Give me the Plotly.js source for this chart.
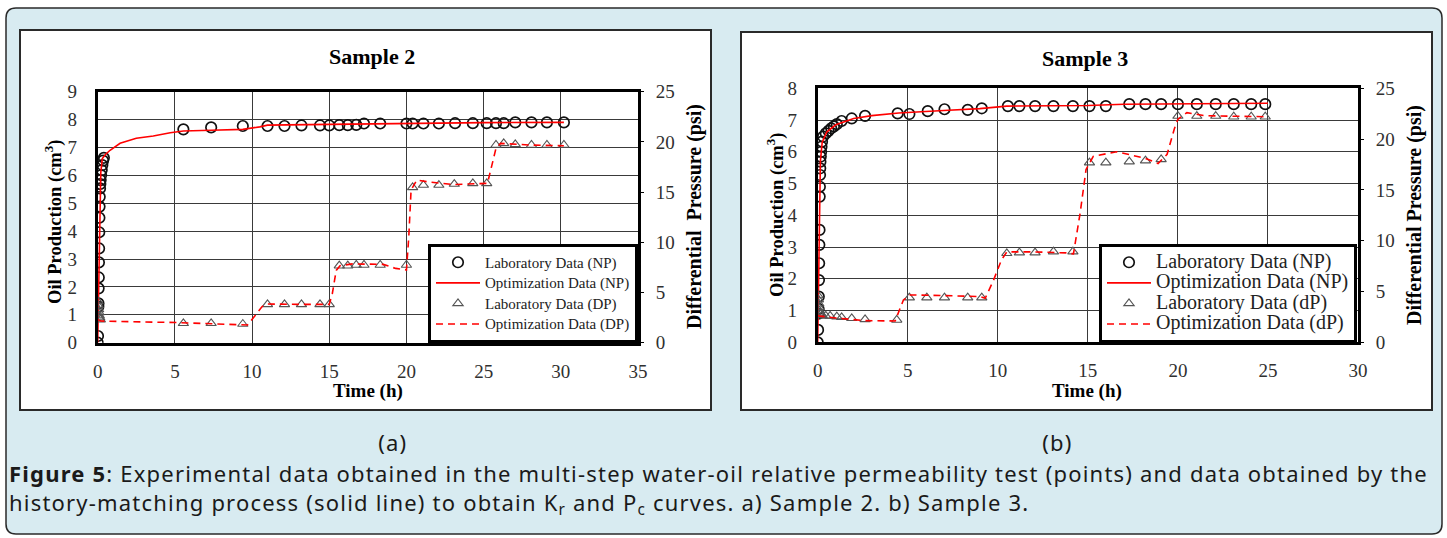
<!DOCTYPE html>
<html>
<head>
<meta charset="utf-8">
<script src="https://cdn.plot.ly/plotly-3.0.1.min.js"></script>
<style>
  html, body { margin: 0; padding: 0; background: #ffffff; }
  #chart { width: 1447px; height: 538px; }
</style>
</head>
<body>
<div id="chart"></div>
<script>
// ---------------- Sample 2 data ----------------
const s2LabNpTime = [0, 0.02, 0.04, 0.05, 0.06, 0.07, 0.08, 0.09, 0.10, 0.11, 0.12, 0.13, 0.15, 0.17, 0.19, 0.22, 0.26, 0.30, 0.35, 0.40,
  5.55, 7.35, 9.4, 11.0, 12.1, 13.2, 14.4, 15.0, 15.65, 16.2, 16.75, 17.25, 18.3, 20.0, 20.4, 21.1, 22.1, 23.15, 24.3, 25.2, 25.8, 26.3, 27.05, 28.1, 29.1, 30.2];
const s2LabNp = [0, 0.24, 1.29, 1.41, 1.95, 2.34, 2.88, 3.38, 3.96, 4.48, 4.88, 5.23, 5.53, 5.69, 5.83, 6.01, 6.19, 6.37, 6.53, 6.63,
  7.65, 7.72, 7.77, 7.77, 7.77, 7.79, 7.79, 7.79, 7.80, 7.80, 7.81, 7.86, 7.86, 7.86, 7.86, 7.86, 7.86, 7.87, 7.87, 7.87, 7.87, 7.87, 7.90, 7.90, 7.90, 7.90];

const s2OptNpTime = [0, 0.05, 0.1, 0.15, 0.2, 0.3, 0.5, 0.8, 1.45, 2.5, 3.6, 4.7, 5.55, 7.35, 9.4, 10.5, 11.0, 15.0, 20.0, 25.0, 30.2];
const s2OptNp = [0, 1.5, 4.0, 5.5, 6.1, 6.6, 6.75, 6.9, 7.15, 7.33, 7.41, 7.53, 7.59, 7.62, 7.65, 7.74, 7.80, 7.83, 7.87, 7.89, 7.90];

const s2LabDpTime = [0.02, 0.04, 0.06, 0.08, 0.10, 0.13, 0.17, 5.55, 7.35, 9.4, 11.0, 12.1, 13.2, 14.4, 15.0, 15.65, 16.2, 16.75, 17.25, 18.3,
  20.0, 20.4, 21.1, 22.1, 23.1, 24.3, 25.2, 25.8, 26.3, 27.05, 28.1, 29.1, 30.2];
const s2LabDp = [4.1, 3.7, 3.3, 3.0, 2.7, 2.5, 2.3, 1.93, 1.93, 1.86, 3.82, 3.82, 3.82, 3.82, 3.82, 7.67, 7.67, 7.74, 7.74, 7.74,
  7.74, 15.47, 15.70, 15.70, 15.80, 15.87, 15.87, 19.69, 19.85, 19.75, 19.69, 19.69, 19.69];

const s2OptDpTime = [0, 0.2, 2.0, 5.3, 9.7, 10.0, 10.25, 10.65, 11.0, 13.0, 15.0, 15.2, 15.45, 15.7, 16.5, 18.5, 19.3, 20.0, 20.15, 20.3, 20.67, 21.5, 23.0, 25.25, 25.47, 25.8, 26.1, 28.0, 30.2];
const s2OptDp = [2.3, 2.16, 2.1, 2.0, 1.76, 2.3, 2.8, 3.6, 3.85, 3.82, 3.82, 4.9, 7.2, 7.67, 7.85, 7.8, 7.4, 7.24, 10.5, 15.2, 16.2, 16.0, 15.75, 15.87, 17.2, 19.36, 19.85, 19.69, 19.62];

// ---------------- Sample 3 data ----------------
const s3LabNpTime = [0, 0.02, 0.04, 0.05, 0.06, 0.07, 0.08, 0.09, 0.10, 0.11, 0.12, 0.13, 0.14, 0.15, 0.17, 0.19, 0.21, 0.24, 0.30, 0.45, 0.60, 0.75, 0.90, 1.06, 1.33, 1.89, 2.63,
  4.44, 5.09, 6.11, 7.04, 8.33, 9.11, 10.56, 11.2, 12.07, 13.09, 14.17, 15.09, 16.0, 17.3, 18.2, 19.07, 20.0, 21.05, 22.1, 23.1, 24.07, 24.85];
const s3LabNp = [0, 0.39, 0.9, 1.05, 1.44, 1.96, 2.49, 3.07, 3.54, 4.59, 4.90, 5.27, 5.48, 5.69, 5.85, 6.00, 6.16, 6.32, 6.48, 6.58, 6.66, 6.74, 6.80, 6.87, 6.97, 7.05, 7.13,
  7.21, 7.19, 7.28, 7.34, 7.32, 7.37, 7.44, 7.44, 7.44, 7.44, 7.44, 7.44, 7.44, 7.50, 7.50, 7.50, 7.50, 7.50, 7.50, 7.50, 7.50, 7.50];

const s3OptNpTime = [0, 0.05, 0.1, 0.15, 0.25, 0.5, 1.0, 2.0, 3.0, 4.5, 7.0, 9.0, 10.5, 15.0, 17.0, 20.0, 25.0];
const s3OptNp = [0, 1.6, 3.6, 5.7, 6.3, 6.62, 6.85, 7.05, 7.14, 7.22, 7.30, 7.36, 7.44, 7.46, 7.50, 7.52, 7.53];

const s3LabDpTime = [0.02, 0.04, 0.06, 0.08, 0.10, 0.13, 0.17, 0.25, 0.45, 0.69, 1.06, 1.33, 1.89, 2.63, 4.39,
  5.09, 6.06, 7.04, 8.33, 9.11, 10.5, 11.2, 12.07, 13.09, 14.17, 15.09, 16.0, 17.3, 18.2, 19.07, 20.0, 21.05, 22.1, 23.1, 24.07, 24.85];
const s3LabDp = [4.6, 4.2, 3.8, 3.4, 3.1, 2.9, 2.75, 2.65, 2.6, 2.59, 2.53, 2.46, 2.36, 2.26, 2.2,
  4.4, 4.4, 4.4, 4.4, 4.4, 8.76, 8.83, 8.83, 8.92, 8.92, 17.68, 17.68, 17.78, 17.88, 18.0, 22.27, 22.27, 22.27, 22.2, 22.2, 22.2];

const s3OptDpTime = [0, 0.3, 1.0, 2.6, 4.3, 4.76, 5.13, 7.0, 9.0, 9.3, 9.76, 10.2, 10.5, 12.0, 13.8, 14.2, 14.57, 14.9, 15.3, 16.6, 18.2, 18.9, 19.4, 19.8, 20.0, 20.5, 21.5, 25.0];
const s3OptDp = [2.6, 2.53, 2.4, 2.13, 2.1, 4.17, 4.66, 4.6, 4.5, 4.33, 6.1, 8.1, 8.9, 8.9, 8.8, 8.7, 12.7, 17.0, 18.3, 18.76, 18.1, 17.6, 18.5, 21.0, 21.95, 22.6, 22.3, 22.2];

// ---------------- labels ----------------
const legendNamesA = ['Laboratory Data (NP)', 'Optimization Data (NP)', 'Laboratory Data (DP)', 'Optimization Data (DP)'];
const legendNamesB = ['Laboratory Data (NP)', 'Optimization Data (NP)', 'Laboratory Data (dP)', 'Optimization Data (dP)'];
const xTicksA = [0, 5, 10, 15, 20, 25, 30, 35];
const xTicksB = [0, 5, 10, 15, 20, 25, 30];
const yLeftTicksA = [0, 1, 2, 3, 4, 5, 6, 7, 8, 9];
const yLeftTicksB = [0, 1, 2, 3, 4, 5, 6, 7, 8];
const yRightTicks = [0, 5, 10, 15, 20, 25];
const captionLine1 = '<b>Figure 5</b>: Experimental data obtained in the multi-step water-oil relative permeability test (points) and data obtained by the';
const captionLine2 = 'history-matching process (solid line) to obtain K<sub>r</sub> and P<sub>c</sub> curves. a) Sample 2. b) Sample 3.';

// ---------------- layout helpers ----------------
const W = 1447, H = 538;
const fx = x => x / W;
const fy = y => 1 - y / H;

const SERIF = 'Liberation Serif, Times New Roman, serif';
const SANS = 'Noto Sans, Open Sans, sans-serif';
const RED = '#ff0000';
const GRID = '#3a3a3a';
const TICKC = '#303030';
const DASH = '7px,5px';

function styled(name, px) { return '<span style="font-size:' + px + 'px">' + name + '</span>'; }

function labNp(x, y, name, xa, ya, lg) {
  return { type: 'scatter', mode: 'markers', x: x, y: y, name: name, xaxis: xa, yaxis: ya, legend: lg,
    marker: { symbol: 'circle-open', size: 10.5, color: '#111111', line: { width: 1.7, color: '#111111' } } };
}
function optNp(x, y, name, xa, ya, lg) {
  return { type: 'scatter', mode: 'lines', x: x, y: y, name: name, xaxis: xa, yaxis: ya, legend: lg,
    line: { color: RED, width: 1.6 } };
}
function labDp(x, y, name, xa, ya, lg) {
  return { type: 'scatter', mode: 'markers', x: x, y: y, name: name, xaxis: xa, yaxis: ya, legend: lg,
    marker: { symbol: 'triangle-up-open', size: 9, color: '#555555', line: { width: 1.1, color: '#555555' } } };
}
function optDp(x, y, name, xa, ya, lg) {
  return { type: 'scatter', mode: 'lines', x: x, y: y, name: name, xaxis: xa, yaxis: ya, legend: lg,
    line: { color: RED, width: 1.6, dash: DASH } };
}

const data = [
  labNp(s2LabNpTime, s2LabNp, styled(legendNamesA[0], 15), 'x', 'y', 'legend'),
  optNp(s2OptNpTime, s2OptNp, styled(legendNamesA[1], 15), 'x', 'y', 'legend'),
  labDp(s2LabDpTime, s2LabDp, styled(legendNamesA[2], 15), 'x', 'y2', 'legend'),
  optDp(s2OptDpTime, s2OptDp, styled(legendNamesA[3], 15), 'x', 'y2', 'legend'),
  labNp(s3LabNpTime, s3LabNp, styled(legendNamesB[0], 20), 'x2', 'y3', 'legend2'),
  optNp(s3OptNpTime, s3OptNp, styled(legendNamesB[1], 20), 'x2', 'y3', 'legend2'),
  labDp(s3LabDpTime, s3LabDp, styled(legendNamesB[2], 20), 'x2', 'y4', 'legend2'),
  optDp(s3OptDpTime, s3OptDp, styled(legendNamesB[3], 20), 'x2', 'y4', 'legend2')
];

const tickFont = { family: SERIF, size: 19, color: TICKC };

function xAxis(domain, anchor, ticks) {
  return { domain: domain, anchor: anchor, range: [0, ticks[ticks.length - 1]], tickvals: ticks, ticktext: ticks.map(String),
    showgrid: true, gridcolor: GRID, gridwidth: 1, zeroline: false,
    showline: true, mirror: true, linecolor: '#000000', linewidth: 3,
    ticks: '', ticklabelstandoff: 9, tickfont: tickFont, fixedrange: true };
}
function yLeft(domain, anchor, ticks) {
  return { domain: domain, anchor: anchor, range: [0, ticks[ticks.length - 1]], tickvals: ticks, ticktext: ticks.map(String),
    showgrid: true, gridcolor: GRID, gridwidth: 1, zeroline: false,
    showline: true, mirror: true, linecolor: '#000000', linewidth: 3,
    ticks: '', ticklabelstandoff: 14, tickfont: tickFont, fixedrange: true };
}
function yRight(over, anchor) {
  return { overlaying: over, anchor: anchor, side: 'right', range: [0, 25], tickvals: yRightTicks, ticktext: yRightTicks.map(String),
    showgrid: false, zeroline: false, showline: false,
    ticks: 'outside', ticklen: 5, tickcolor: '#000000', tickwidth: 1, ticklabelstandoff: 8,
    tickfont: tickFont, fixedrange: true };
}

// outer rounded box path
function roundRect(l, t, r, b, rad) {
  return 'M ' + fx(l + rad) + ',' + fy(t) +
    ' L ' + fx(r - rad) + ',' + fy(t) +
    ' Q ' + fx(r) + ',' + fy(t) + ' ' + fx(r) + ',' + fy(t + rad) +
    ' L ' + fx(r) + ',' + fy(b - rad) +
    ' Q ' + fx(r) + ',' + fy(b) + ' ' + fx(r - rad) + ',' + fy(b) +
    ' L ' + fx(l + rad) + ',' + fy(b) +
    ' Q ' + fx(l) + ',' + fy(b) + ' ' + fx(l) + ',' + fy(b - rad) +
    ' L ' + fx(l) + ',' + fy(t + rad) +
    ' Q ' + fx(l) + ',' + fy(t) + ' ' + fx(l + rad) + ',' + fy(t) + ' Z';
}

const shapes = [
  { type: 'path', xref: 'paper', yref: 'paper', layer: 'below', path: roundRect(6, 8, 1442, 534, 10),
    fillcolor: '#d8ebf1', line: { color: '#2a2a2a', width: 1.5 } },
  { type: 'rect', xref: 'paper', yref: 'paper', layer: 'below', x0: fx(20), x1: fx(711), y0: fy(410), y1: fy(30),
    fillcolor: '#ffffff', line: { color: '#2a2a2a', width: 2 } },
  { type: 'rect', xref: 'paper', yref: 'paper', layer: 'below', x0: fx(741), x1: fx(1432), y0: fy(410), y1: fy(32),
    fillcolor: '#ffffff', line: { color: '#2a2a2a', width: 2 } }
];

function ann(text, x, y, font, opts) {
  return Object.assign({ text: text, xref: 'paper', yref: 'paper', x: fx(x), y: fy(y), showarrow: false,
    xanchor: 'center', yanchor: 'middle', font: font }, opts || {});
}
const titleFont = { family: SERIF, size: 22, color: '#000000' };
const axFontL = { family: SERIF, size: 18.5, color: '#000000' };
const axFontR = { family: SERIF, size: 20, color: '#000000' };
const timeFont = { family: SERIF, size: 19, color: '#000000' };
const capFont = { family: SANS, size: 22, color: '#1a1a1a' };

const annotations = [
  ann('<b>Sample 2</b>', 372, 57, titleFont),
  ann('<b>Sample 3</b>', 1085, 59, titleFont),
  ann('<b>Oil Production (cm<sup>3</sup>)</b>', 53, 222, axFontL, { textangle: -90 }),
  ann('<b>Differential&nbsp; Pressure (psi)</b>', 694, 217, axFontR, { textangle: -90 }),
  ann('<b>Oil Production (cm<sup>3</sup>)</b>', 775, 215, axFontL, { textangle: -90 }),
  ann('<b>Differential Pressure (psi)</b>', 1414, 215, axFontR, { textangle: -90 }),
  ann('<b>Time (h)</b>', 368, 391, timeFont),
  ann('<b>Time (h)</b>', 1087, 391, timeFont),
  ann('(a)', 393, 442, capFont),
  ann('(b)', 1057, 442, capFont),
  ann(captionLine1 + '<br>' + captionLine2, 7, 489, capFont, { xanchor: 'left', align: 'left' })
];

const layout = {
  width: W, height: H,
  margin: { l: 0, r: 0, t: 0, b: 0, pad: 0 },
  paper_bgcolor: '#ffffff',
  plot_bgcolor: 'rgba(0,0,0,0)',
  showlegend: true,
  xaxis: xAxis([fx(97.7), fx(638)], 'y', xTicksA),
  yaxis: yLeft([fy(342.7), fy(91.7)], 'x', yLeftTicksA),
  yaxis2: yRight('y', 'x'),
  xaxis2: xAxis([fx(817.7), fx(1358)], 'y3', xTicksB),
  yaxis3: yLeft([fy(342.3), fy(88.3)], 'x2', yLeftTicksB),
  yaxis4: yRight('y3', 'x2'),
  legend: { x: fx(638), xanchor: 'right', y: fy(343), yanchor: 'bottom', bgcolor: '#ffffff', itemwidth: 44,
    bordercolor: '#000000', borderwidth: 3, font: { family: SERIF, size: 13.5, color: '#222222' }, tracegroupgap: 0 },
  legend2: { x: fx(1357), xanchor: 'right', y: fy(343), yanchor: 'bottom', bgcolor: '#ffffff', itemwidth: 44,
    bordercolor: '#000000', borderwidth: 3, font: { family: SERIF, size: 13.5, color: '#222222' }, tracegroupgap: 0 },
  shapes: shapes,
  annotations: annotations,
  hovermode: false
};

Plotly.newPlot('chart', data, layout, { displayModeBar: false, staticPlot: true }).then(function () {
  // widen the caption lettering slightly to match the wide caption face of the original
  document.querySelectorAll('.annotation-text').forEach(function (t) {
    const s = t.textContent || '';
    if (s.indexOf('Figure 5') === 0 || s === '(a)' || s === '(b)') {
      t.style.letterSpacing = '1.2px';
    }
  });
});
</script>
</body>
</html>
